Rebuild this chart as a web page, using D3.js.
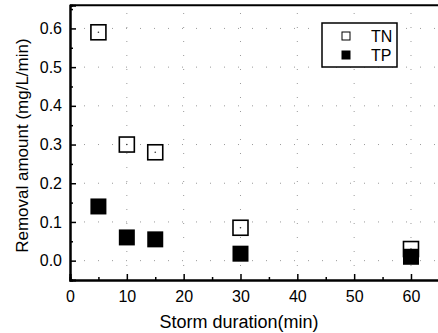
<!DOCTYPE html>
<html>
<head>
<meta charset="utf-8">
<script src="https://cdn.jsdelivr.net/npm/d3@7"></script>
<style>
  body { margin: 0; background: #fff; }
  text { font-family: "Liberation Sans", Arial, sans-serif; fill: #000; }
</style>
</head>
<body>
<div id="chart"></div>
<script>
/* --- data ---------------------------------------------------------------- */
const durations = [5, 10, 15, 30, 60];
const tnValues  = [0.59, 0.30, 0.28, 0.085, 0.03];
const tpValues  = [0.14, 0.06, 0.055, 0.018, 0.01];
const xTicks = [0, 10, 20, 30, 40, 50, 60];
const yTicks = [0.0, 0.1, 0.2, 0.3, 0.4, 0.5, 0.6];
const seriesNames = ["TN", "TP"];

/* --- layout -------------------------------------------------------------- */
const width = 438, height = 333;
const x = d3.scaleLinear().domain([0, 65]).range([70, 439.4]);
const y = d3.scaleLinear().domain([-0.05, 0.66]).range([280, 5.2]);

const svg = d3.select("#chart").append("svg")
  .attr("width", width).attr("height", height);

/* --- grid (sparse dots) -------------------------------------------------- */
const grid = svg.append("g").attr("stroke", "#9a9a9a").attr("stroke-width", 1)
  .attr("stroke-dasharray", "1 13");
grid.selectAll("line.gx").data(xTicks.slice(1)).join("line")
  .attr("x1", d => x(d)).attr("x2", d => x(d))
  .attr("y1", y.range()[0]).attr("y2", y.range()[1]);
grid.selectAll("line.gy").data(yTicks).join("line")
  .attr("y1", d => y(d)).attr("y2", d => y(d))
  .attr("x1", x.range()[0]).attr("x2", x.range()[1]);

/* --- axes (inward ticks, Origin style) ----------------------------------- */
const xAxis = svg.append("g").attr("transform", `translate(0,${y.range()[0]})`)
  .call(d3.axisBottom(x).tickValues(xTicks).tickSize(-6).tickPadding(11).tickFormat(d3.format("d")));
const xMinor = svg.append("g").attr("transform", `translate(0,${y.range()[0]})`)
  .call(d3.axisBottom(x).tickValues(d3.range(5, 65, 10)).tickSize(-3).tickFormat(""));
const yAxis = svg.append("g").attr("transform", `translate(${x.range()[0]},0)`)
  .call(d3.axisLeft(y).tickValues(yTicks).tickSize(-6).tickPadding(8).tickFormat(d3.format(".1f")));
const yMinor = svg.append("g").attr("transform", `translate(${x.range()[0]},0)`)
  .call(d3.axisLeft(y).tickValues([-0.05, 0.05, 0.15, 0.25, 0.35, 0.45, 0.55, 0.65]).tickSize(-3).tickFormat(""));

[xAxis, xMinor, yAxis, yMinor].forEach(a => {
  a.select(".domain").attr("stroke", "#000").attr("stroke-width", 2);
  a.selectAll(".tick line").attr("stroke", "#000").attr("stroke-width", 1.5);
  a.selectAll("text").attr("font-size", 16).attr("font-family", "Liberation Sans, Arial, sans-serif");
});

// top spine
svg.append("line")
  .attr("x1", x.range()[0]).attr("x2", width)
  .attr("y1", y.range()[1]).attr("y2", y.range()[1])
  .attr("stroke", "#000").attr("stroke-width", 2);

/* --- titles -------------------------------------------------------------- */
svg.append("text")
  .attr("x", 239).attr("y", 328)
  .attr("text-anchor", "middle").attr("font-size", 18)
  .text("Storm duration(min)");
svg.append("text")
  .attr("transform", `translate(28,${(y(-0.05) + y(0.66)) / 2 + 3}) rotate(-90)`)
  .attr("text-anchor", "middle").attr("font-size", 17)
  .text("Removal amount (mg/L/min)");

/* --- points -------------------------------------------------------------- */
const sz = 15;
const tn = durations.map((d, i) => ({ d, v: tnValues[i] }));
const tp = durations.map((d, i) => ({ d, v: tpValues[i] }));

svg.append("g").selectAll("rect").data(tn).join("rect")
  .attr("x", p => x(p.d) - sz / 2).attr("y", p => y(p.v) - sz / 2)
  .attr("width", sz).attr("height", sz)
  .attr("fill", "#fff").attr("stroke", "#000").attr("stroke-width", 1.6);
svg.append("g").selectAll("circle").data(tn).join("circle")
  .attr("cx", p => x(p.d)).attr("cy", p => y(p.v)).attr("r", 0.8).attr("fill", "#333");

svg.append("g").selectAll("rect").data(tp).join("rect")
  .attr("x", p => x(p.d) - sz / 2 - 0.5).attr("y", p => y(p.v) - sz / 2 - 0.5)
  .attr("width", sz + 1).attr("height", sz + 1)
  .attr("fill", "#000");

/* --- legend -------------------------------------------------------------- */
const lg = svg.append("g").attr("transform", "translate(322,23)");
lg.append("rect").attr("width", 75).attr("height", 44)
  .attr("fill", "#fff").attr("stroke", "#000").attr("stroke-width", 1.5);
seriesNames.forEach((name, i) => {
  const cy = 13 + i * 19;
  lg.append("rect").attr("x", 20).attr("y", cy - 4).attr("width", 8).attr("height", 8)
    .attr("fill", i === 0 ? "#fff" : "#000").attr("stroke", "#000").attr("stroke-width", 1);
  lg.append("text").attr("x", 49).attr("y", cy + 6).attr("font-size", 16).text(name);
});
</script>
</body>
</html>
